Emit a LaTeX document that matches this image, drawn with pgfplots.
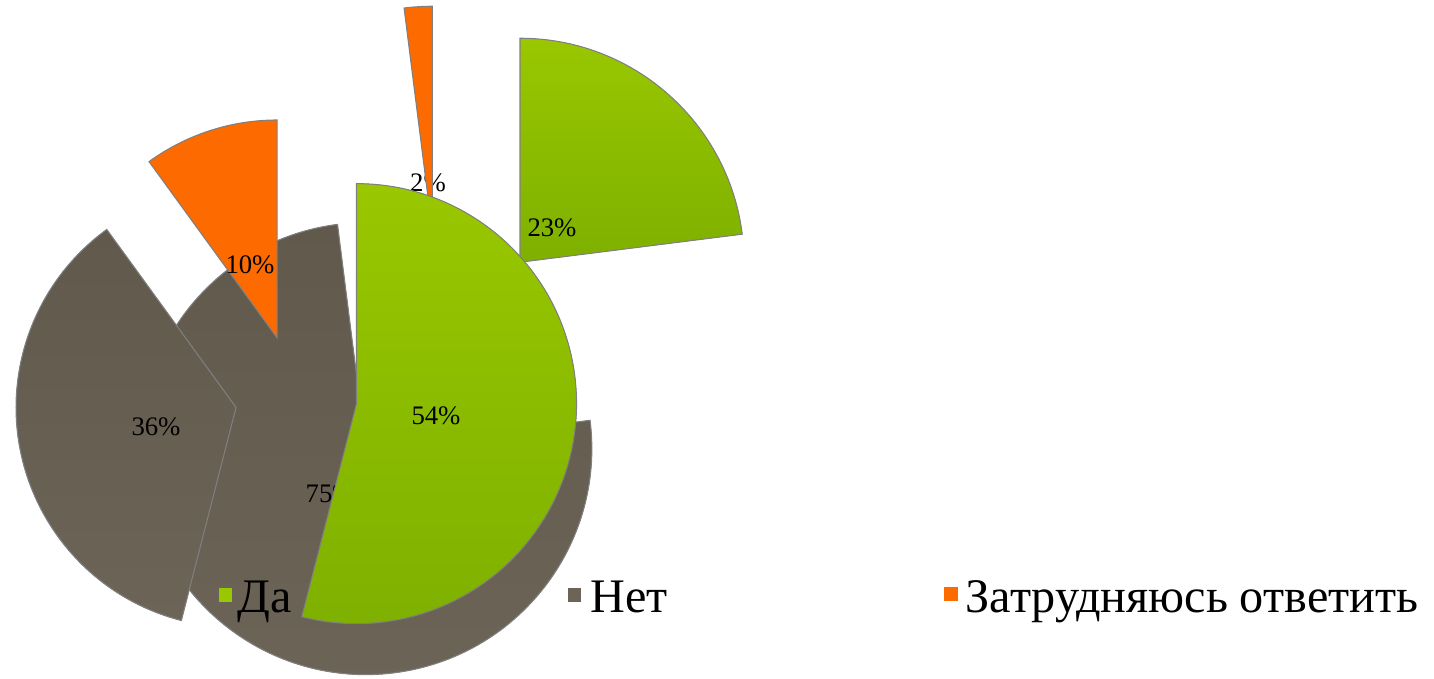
\documentclass[border=0pt]{standalone}
\usepackage{fontspec}
\setmainfont{Liberation Serif}
\usepackage{pgfplots}
\pgfplotsset{compat=1.18}
\definecolor{cgreen}{RGB}{153,199,0}
\definecolor{cgreenD}{RGB}{126,176,0}
\definecolor{cgray}{RGB}{108,100,87}
\definecolor{cgrayD}{RGB}{96,89,76}
\definecolor{corange}{RGB}{252,106,0}

% #1 cx, #2 cy (pixels), #3 radius, #4 explode, #5 start percent, #6 percent, #7 fill style
\newcommand{\slice}[7]{%
  \pgfmathsetmacro{\aS}{90-3.6*#5}%
  \pgfmathsetmacro{\aE}{90-3.6*(#5+#6)}%
  \pgfmathsetmacro{\aM}{(\aS+\aE)/2}%
  \pgfmathsetmacro{\rr}{#3*0.01}%
  \pgfmathsetmacro{\ee}{#4*0.01}%
  \edef\tmp{\noexpand\fill[#7, draw=black!50, line width=0.3pt]
    ([shift={(\aM:\ee cm)}]axis cs:#1,#2) -- ++(\aS:\rr cm)
    arc[start angle=\aS, end angle=\aE, radius=\rr cm] -- cycle;}%
  \tmp
}

\begin{document}
\begin{tikzpicture}
\begin{axis}[
  x=0.01cm, y=0.01cm,
  xmin=0, xmax=1434, ymin=0, ymax=678,
  y dir=reverse,
  hide axis, clip=true,
]
% ---- pie B: Да 23, Нет 75, Затрудняюсь 2 ----
\slice{440}{353}{226}{121}{23}{75}{top color=cgrayD, bottom color=cgray}
\slice{440}{353}{224}{121}{0}{23}{top color=cgreen, bottom color=cgreenD}
\node[font=\fontsize{7.6}{9}\selectfont, inner sep=0] at (axis cs:428,183) {2\%};
\slice{440}{353}{226}{121}{98}{2}{fill=corange}
\node[font=\fontsize{7.6}{9}\selectfont, inner sep=0] at (axis cs:552,228) {23\%};
\node[font=\fontsize{7.6}{9}\selectfont, inner sep=0, anchor=west] at (axis cs:305,494) {75\%};
% ---- pie A: Да 54, Нет 36, Затрудняюсь 10 ----
\slice{296}{396}{220}{61}{54}{36}{top color=cgrayD, bottom color=cgray}
\slice{296}{396}{218}{61}{90}{10}{fill=corange}
\slice{296}{396}{220}{61}{0}{54}{top color=cgreen, bottom color=cgreenD}
\node[font=\fontsize{7.6}{9}\selectfont, inner sep=0] at (axis cs:436,416) {54\%};
\node[font=\fontsize{7.6}{9}\selectfont, inner sep=0] at (axis cs:156,427) {36\%};
\node[font=\fontsize{7.6}{9}\selectfont, inner sep=0] at (axis cs:250,265) {10\%};
% ---- legend ----
\fill[cgreen] (axis cs:219,588) rectangle (axis cs:232,602);
\node[anchor=base west, inner sep=0, font=\fontsize{13.7}{16}\selectfont] at (axis cs:237,612) {Да};
\fill[cgray] (axis cs:568,588) rectangle (axis cs:581,602);
\node[anchor=base west, inner sep=0, font=\fontsize{13.7}{16}\selectfont] at (axis cs:590,612) {Нет};
\fill[corange] (axis cs:944,587) rectangle (axis cs:958,601);
\node[anchor=base west, inner sep=0, font=\fontsize{13.7}{16}\selectfont] at (axis cs:965,612) {Затрудняюсь ответить};
\end{axis}
\pgfresetboundingbox
\path (current axis.south west) rectangle (current axis.north east);
\end{tikzpicture}
\end{document}
